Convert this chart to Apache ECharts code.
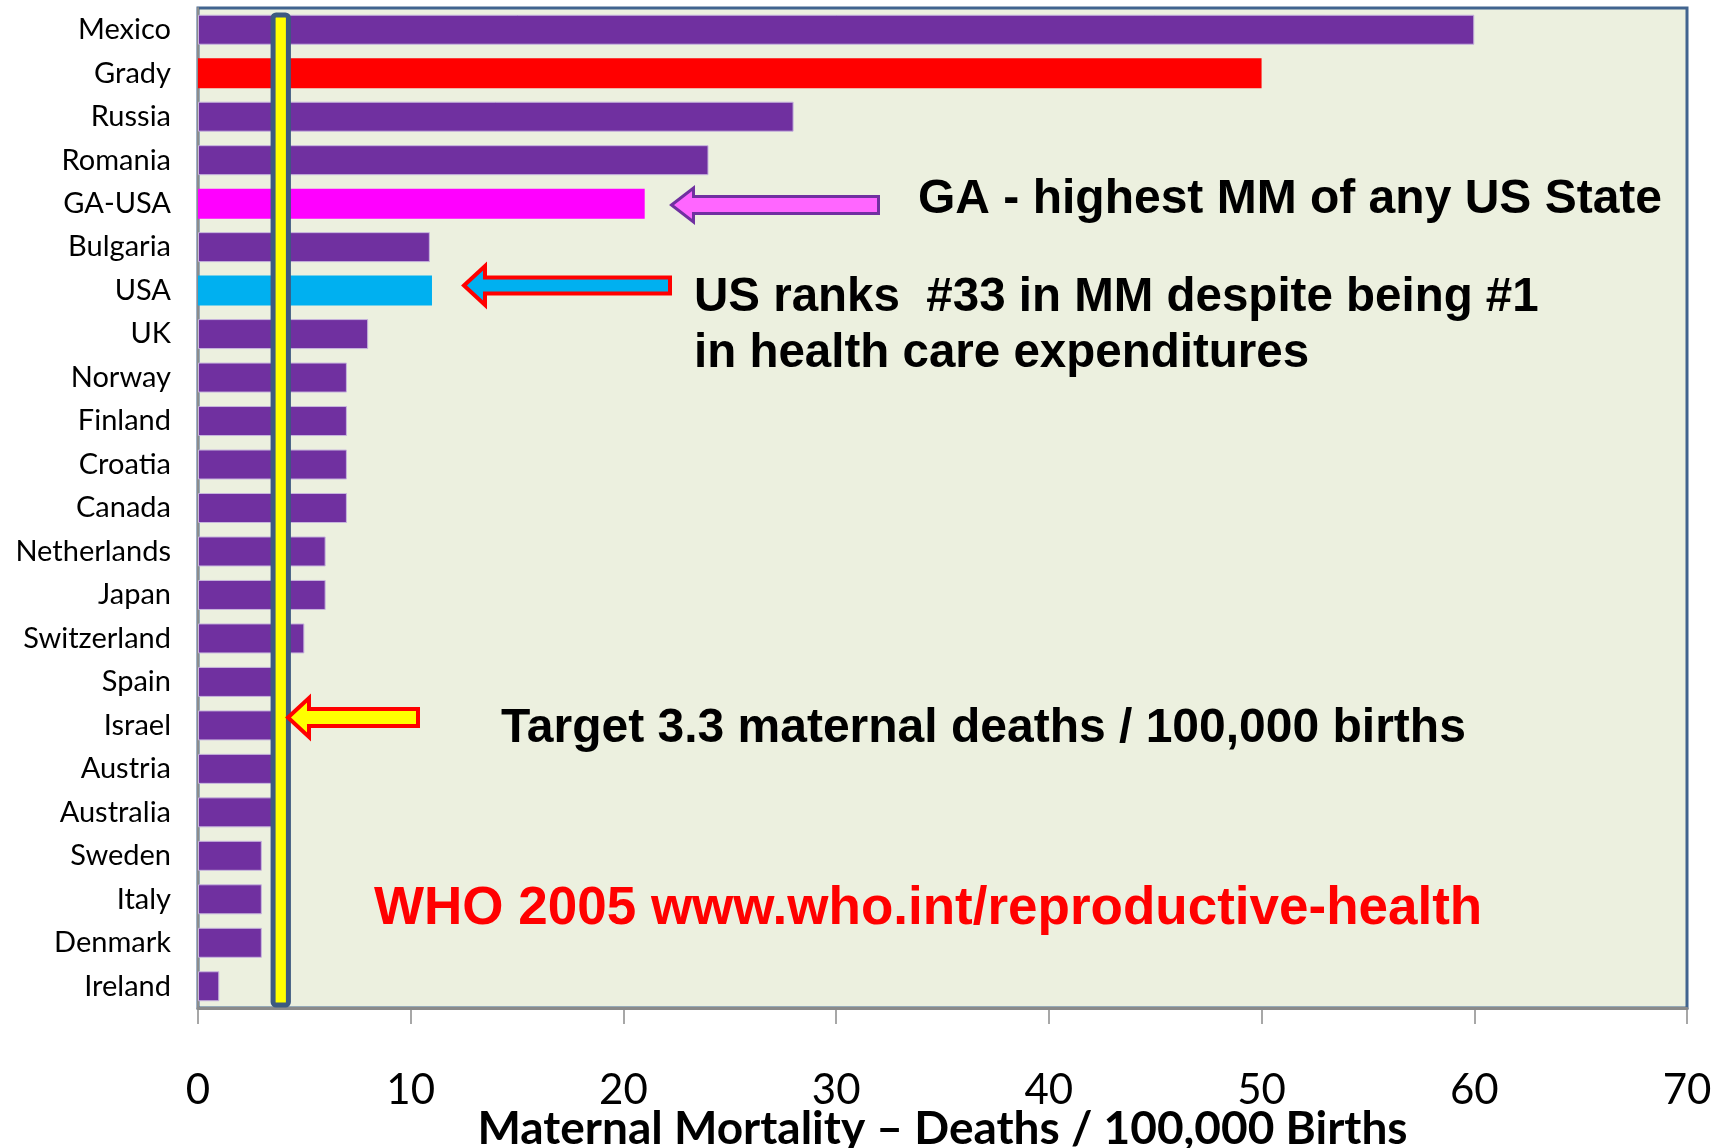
<!DOCTYPE html>
<html lang="en">
<head>
  <meta charset="UTF-8">
  <title>Maternal Mortality</title>
  <script src="https://cdn.jsdelivr.net/npm/echarts@6/dist/echarts.min.js"></script>
  <style>
    html, body { margin: 0; padding: 0; background: #fff; }
    #main { width: 1733px; height: 1148px; }
  </style>
</head>
<body>
  <div id="main"></div>
  <script type="text/javascript">
    // data
    var countries = ['Mexico', 'Grady', 'Russia', 'Romania', 'GA-USA', 'Bulgaria', 'USA', 'UK',
      'Norway', 'Finland', 'Croatia', 'Canada', 'Netherlands', 'Japan', 'Switzerland', 'Spain',
      'Israel', 'Austria', 'Australia', 'Sweden', 'Italy', 'Denmark', 'Ireland'];
    var deaths = [60, 50, 28, 24, 21, 10.9, 11, 8, 7, 7, 7, 7, 6, 6, 5, 4, 4, 4, 4, 3, 3, 3, 1];
    var xTicks = [0, 10, 20, 30, 40, 50, 60, 70];
    // yellow target column (axis values)
    var targetBand = [3.53, 4.25];

    // bar colours
    var baseColor = '#7030A0';
    var highlight = { 'Grady': '#FF0000', 'GA-USA': '#FF00FF', 'USA': '#00B0F0' };

    var chart = echarts.init(document.getElementById('main'));

    var barData = [];
    for (var i = 0; i < deaths.length; i++) {
      var c = highlight[countries[i]];
      barData.push({
        value: deaths[i],
        itemStyle: c ? { color: c, borderWidth: 0 } : { color: baseColor, borderColor: '#c7b5dd', borderWidth: 1 }
      });
    }

    // left pointing block arrow
    function arrow(tipX, tailX, cy, headH, shaftH, headL, fill, stroke, lw) {
      var h = lw / 2;
      tipX += h; tailX -= h; headH -= lw; shaftH -= lw;
      var bx = tipX + headL;
      return {
        type: 'polygon',
        z: 100,
        shape: {
          points: [
            [tipX, cy], [bx, cy - headH / 2], [bx, cy - shaftH / 2], [tailX, cy - shaftH / 2],
            [tailX, cy + shaftH / 2], [bx, cy + shaftH / 2], [bx, cy + headH / 2]
          ]
        },
        style: { fill: fill, stroke: stroke, lineWidth: lw, lineJoin: 'miter' }
      };
    }

    function note(x, y, text, size, color) {
      return {
        type: 'text',
        z: 100,
        x: x,
        y: y,
        style: {
          text: text,
          fill: color,
          font: 'bold ' + size + 'px "Liberation Sans", Arial, sans-serif',
          textVerticalAlign: 'middle',
          textAlign: 'left'
        }
      };
    }

    var option = {
      animation: false,
      backgroundColor: '#ffffff',
      grid: {
        left: 198,
        right: 46,
        top: 8,
        bottom: 140,
        containLabel: false,
        outerBoundsMode: 'none',
        show: true,
        backgroundColor: '#ECF0DF',
        borderColor: '#41648f',
        borderWidth: 3
      },
      xAxis: {
        type: 'value',
        min: xTicks[0],
        max: xTicks[xTicks.length - 1],
        interval: 10,
        name: 'Maternal Mortality \u2013 Deaths / 100,000 Births',
        nameLocation: 'middle',
        nameGap: 98,
        nameMoveOverlap: false,
        nameTextStyle: { fontFamily: 'Lato', fontWeight: 'bold', fontSize: 46, color: '#000' },
        axisLine: { show: true, lineStyle: { color: '#8a8a8a', width: 3 } },
        axisTick: { show: true, length: 16, lineStyle: { color: '#8a8a8a', width: 1.5 } },
        axisLabel: { margin: 61, fontFamily: 'Lato', fontSize: 42, color: '#000' },
        splitLine: { show: false }
      },
      yAxis: {
        type: 'category',
        inverse: true,
        data: countries,
        axisLine: { show: true, lineStyle: { color: '#8c8c8c', width: 2 } },
        axisTick: { show: false },
        axisLabel: { margin: 27, fontFamily: 'Lato', fontSize: 29, color: '#000' }
      },
      series: [
        {
          type: 'bar',
          data: barData,
          barCategoryGap: '31%',
          z: 2
        },
        {
          // target column drawn over the bars
          type: 'custom',
          z: 10,
          encode: { x: [0, 1], y: 2 },
          data: [[targetBand[0], targetBand[1], 0]],
          renderItem: function (params, api) {
            var cs = params.coordSys;
            var x0 = api.coord([api.value(0), 0])[0];
            var x1 = api.coord([api.value(1), 0])[0];
            return {
              type: 'rect',
              shape: { x: x0, y: cs.y + 7, width: x1 - x0, height: cs.height - 10, r: 3 },
              style: { fill: '#FFFF00', stroke: '#3d5a80', lineWidth: 5 }
            };
          }
        }
      ],
      graphic: [
        arrow(670, 880, 205, 37, 20, 22, '#FF66FF', '#7030A0', 3),
        arrow(462, 672, 285.5, 43, 20, 21, '#00B0F0', '#FF0000', 4),
        arrow(286, 420, 717.5, 43, 21, 21, '#FFFF00', '#FF0000', 4),
        note(918, 200, 'GA - highest MM of any US State', 48, '#000'),
        note(694, 298, 'US ranks  #33 in MM despite being #1', 47.5, '#000'),
        note(694, 354, 'in health care expenditures', 47.5, '#000'),
        note(501, 729, 'Target 3.3 maternal deaths / 100,000 births', 48, '#000'),
        note(374, 909, 'WHO 2005 www.who.int/reproductive-health', 53, '#FF0000')
      ]
    };

    chart.setOption(option);
  </script>
</body>
</html>
